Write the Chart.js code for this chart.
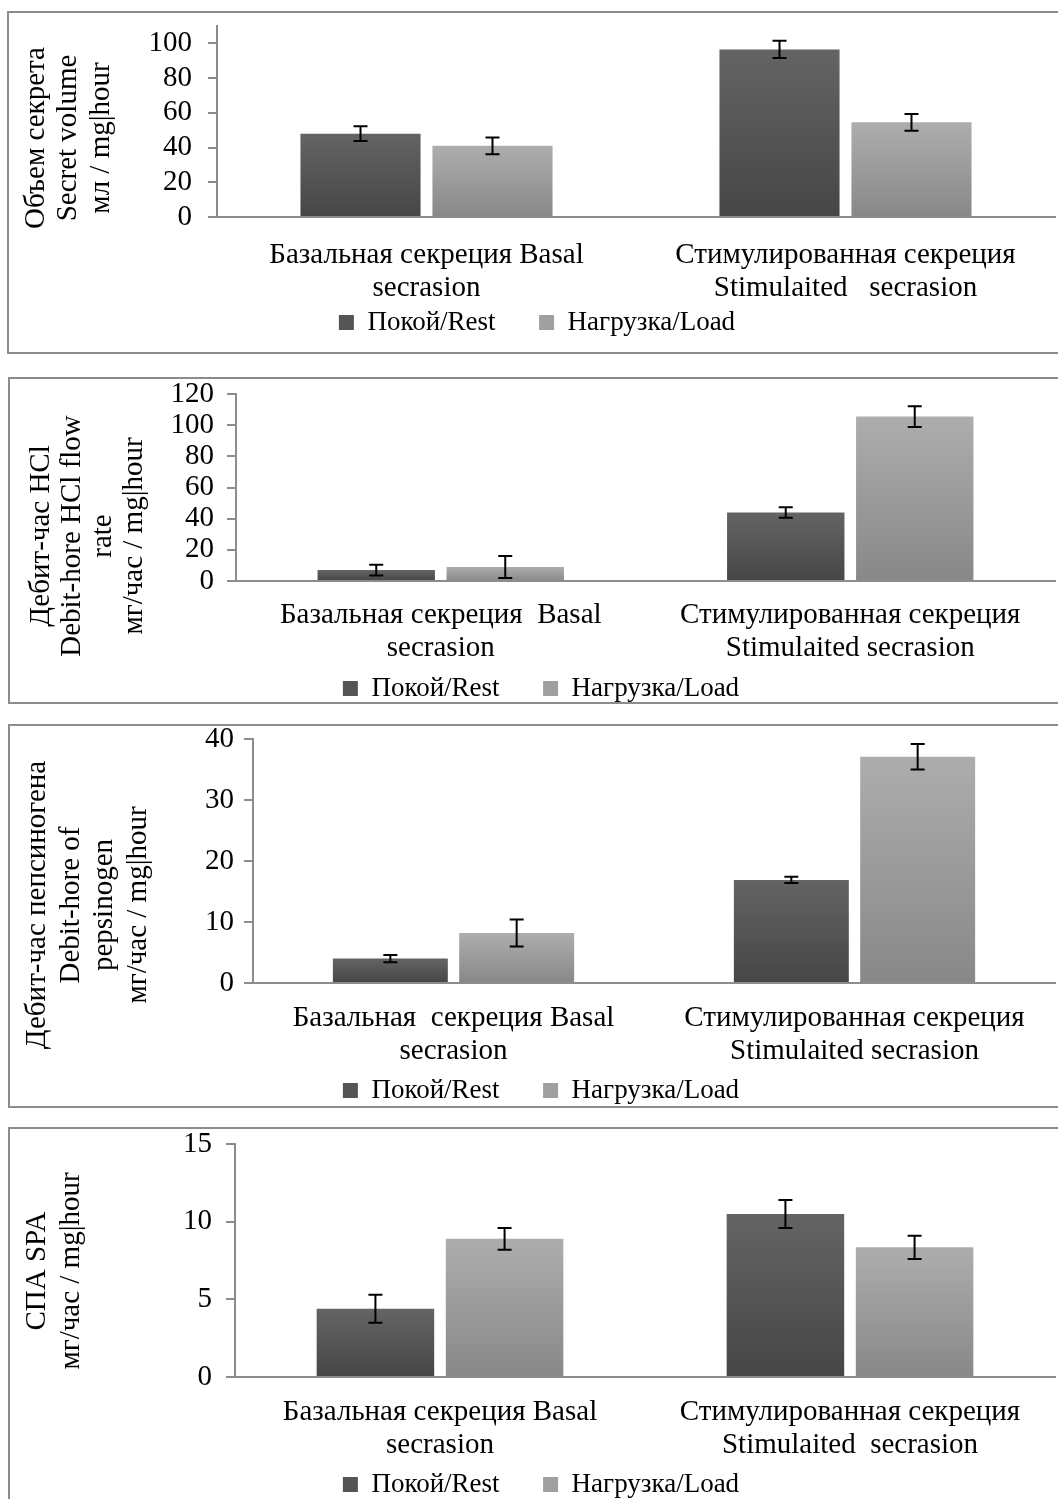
<!DOCTYPE html>
<html>
<head>
<meta charset="utf-8">
<script src="https://cdn.jsdelivr.net/npm/chart.js@4.4.1/dist/chart.umd.min.js"></script>
<style>
  html, body { margin: 0; padding: 0; background: #fff; overflow: hidden; }
  body { width: 1058px; height: 1499px; position: relative; }
  .box { position: absolute; border: 2px solid #8c8c8c; box-sizing: border-box; left: 8px; width: 1070px; }
  .wrap { position: absolute; left: 9px; width: 1049px; }
</style>
</head>
<body>
<div class="box" style="left:7px;top:11px;height:343px"></div>
<div class="box" style="top:377px;height:327px"></div>
<div class="box" style="top:724px;height:384px"></div>
<div class="box" style="top:1127px;height:400px"></div>

<div class="wrap" style="top:-10px;height:356px"><canvas id="c1"></canvas></div>
<div class="wrap" style="top:358px;height:354px"><canvas id="c2"></canvas></div>
<div class="wrap" style="top:703px;height:411px"><canvas id="c3"></canvas></div>
<div class="wrap" style="top:1108px;height:400px"><canvas id="c4"></canvas></div>

<script>
var legendLabels = ['Покой/Rest', 'Нагрузка/Load'];

// 1 - volume of secretion
var volumeCategories = [['Базальная секреция Basal', 'secrasion'], ['Стимулированная секреция', 'Stimulaited   secrasion']];
var volumeRest = [48, 96.5];
var volumeRestErr = [4.2, 5];
var volumeLoad = [41, 54.5];
var volumeLoadErr = [4.8, 4.8];
var volumeTicks = [0, 20, 40, 60, 80, 100];
var volumeTitle = ['Объем секрета', 'Secret volume', 'мл / mg|hour'];

// 2 - HCl flow rate
var hclCategories = [['Базальная секреция  Basal', 'secrasion'], ['Стимулированная секреция', 'Stimulaited secrasion']];
var hclRest = [7, 44];
var hclRestErr = [3.5, 3.4];
var hclLoad = [9, 105.5];
var hclLoadErr = [7, 6.7];
var hclTicks = [0, 20, 40, 60, 80, 100, 120];
var hclTitle = ['Дебит-час HCl', 'Debit-hore HCl flow', 'rate', 'мг/час / mg|hour'];

// 3 - pepsinogen
var pepsCategories = [['Базальная  секреция Basal', 'secrasion'], ['Стимулированная секреция', 'Stimulaited secrasion']];
var pepsRest = [4, 16.9];
var pepsRestErr = [0.6, 0.5];
var pepsLoad = [8.2, 37.1];
var pepsLoadErr = [2.2, 2.1];
var pepsTicks = [0, 10, 20, 30, 40];
var pepsTitle = ['Дебит-час пепсиногена', 'Debit-hore of', 'pepsinogen', 'мг/час / mg|hour'];

// 4 - SPA
var spaCategories = [['Базальная секреция Basal', 'secrasion'], ['Стимулированная секреция', 'Stimulaited  secrasion']];
var spaRest = [4.4, 10.5];
var spaRestErr = [0.9, 0.9];
var spaLoad = [8.9, 8.35];
var spaLoadErr = [0.7, 0.75];
var spaTicks = [0, 5, 10, 15];
var spaTitle = ['СПА SPA', 'мг/час / mg|hour'];

var axisColor = '#8c8c8c';
var legendFill = ['#555555', '#a0a0a0'];
var fontFam = '"Liberation Serif", "Times New Roman", serif';

Chart.defaults.font.family = fontFam;
Chart.defaults.color = '#000';

function barFill(top, bottom) {
  return function(c) {
    var chart = c.chart;
    if (c.type !== 'data' || !chart.chartArea) return bottom;
    var y = chart.scales.y;
    var y1 = y.getPixelForValue(c.raw), y0 = y.getPixelForValue(0);
    if (!isFinite(y1) || y0 - y1 < 1) return bottom;
    var g = chart.ctx.createLinearGradient(0, y1, 0, y0);
    g.addColorStop(0, top);
    g.addColorStop(1, bottom);
    return g;
  };
}

var errorBars = {
  id: 'errorBars',
  afterDatasetsDraw: function(chart) {
    var ctx = chart.ctx, y = chart.scales.y;
    chart.data.datasets.forEach(function(ds, di) {
      var meta = chart.getDatasetMeta(di);
      meta.data.forEach(function(bar, i) {
        var v = ds.data[i], e = ds.errors[i];
        var yt = y.getPixelForValue(v + e), yb = y.getPixelForValue(v - e);
        ctx.save();
        ctx.strokeStyle = '#000';
        ctx.lineWidth = 2;
        ctx.beginPath();
        ctx.moveTo(bar.x, yt); ctx.lineTo(bar.x, yb);
        ctx.moveTo(bar.x - 7, yt); ctx.lineTo(bar.x + 7, yt);
        ctx.moveTo(bar.x - 7, yb); ctx.lineTo(bar.x + 7, yb);
        ctx.stroke();
        ctx.restore();
      });
    });
  }
};

var sideTitle = {
  id: 'sideTitle',
  afterDraw: function(chart, args, o) {
    var ctx = chart.ctx;
    ctx.save();
    ctx.font = '29px ' + fontFam;
    ctx.fillStyle = '#000';
    ctx.textAlign = 'center';
    ctx.textBaseline = 'middle';
    o.lines.forEach(function(t, i) {
      ctx.save();
      ctx.translate(o.xs[i], o.cy);
      ctx.rotate(-Math.PI / 2);
      ctx.fillText(t, 0, 0);
      ctx.restore();
    });
    ctx.restore();
  }
};

function buildPanel(id, p) {
  var ctx = document.getElementById(id).getContext('2d');
  return new Chart(ctx, {
    type: 'bar',
    data: {
      labels: p.categories,
      datasets: [
        { label: legendLabels[0], data: p.rest, errors: p.restErr, backgroundColor: barFill('#646464', '#464646'),
          categoryPercentage: 0.63, barPercentage: 0.91 },
        { label: legendLabels[1], data: p.load, errors: p.loadErr, backgroundColor: barFill('#adadad', '#888888'),
          categoryPercentage: 0.63, barPercentage: 0.91 }
      ]
    },
    options: {
      responsive: true,
      maintainAspectRatio: false,
      animation: false,
      layout: { padding: { top: 36, left: p.padLeft, right: 3, bottom: 0 } },
      scales: {
        x: {
          grid: { display: false, drawTicks: false },
          border: { color: axisColor, width: 2 },
          ticks: { font: { size: 29, lineHeight: 1.16 }, color: '#000', padding: p.xPad, maxRotation: 0, autoSkip: false },
          afterFit: function(s) { s.height = p.xH; }
        },
        y: {
          min: 0,
          max: p.max,
          afterBuildTicks: function(s) { s.ticks = p.ticks.map(function(v) { return { value: v }; }); },
          grid: { drawOnChartArea: false, color: axisColor, lineWidth: 2, tickLength: 9 },
          border: { color: axisColor, width: 2 },
          ticks: { font: { size: 29 }, color: '#000', padding: p.yPad, autoSkip: false },
          afterFit: function(s) { s.width = p.yW; }
        }
      },
      plugins: {
        legend: {
          position: 'bottom',
          labels: {
            font: { size: 27 },
            color: '#000',
            boxWidth: 15,
            boxHeight: 15,
            padding: 3,
            generateLabels: function(chart) {
              return chart.data.datasets.map(function(ds, i) {
                // trailing spaces give the gap between the two legend entries
                var txt = i === 0 ? ds.label + '      ' : ds.label;
                return { text: txt, fillStyle: legendFill[i], strokeStyle: legendFill[i], lineWidth: 0, hidden: false, datasetIndex: i, fontColor: '#000' };
              });
            }
          }
        },
        tooltip: { enabled: false },
        sideTitle: { lines: p.title, xs: p.titleX.map(function(x) { return x - 9; }), cy: p.titleY - p.top }
      }
    },
    plugins: [sideTitle, errorBars]
  });
}

buildPanel('c1', {
  categories: volumeCategories, rest: volumeRest, restErr: volumeRestErr, load: volumeLoad, loadErr: volumeLoadErr,
  ticks: volumeTicks, max: 110, title: volumeTitle,
  top: -10, padLeft: 10, yW: 198, xPad: 21.2, xH: 89, yPad: 16, titleX: [36, 68, 101], titleY: 138
});
buildPanel('c2', {
  categories: hclCategories, rest: hclRest, restErr: hclRestErr, load: hclLoad, loadErr: hclLoadErr,
  ticks: hclTicks, max: 120, title: hclTitle,
  top: 358, padLeft: 18, yW: 209, xPad: 17.2, xH: 91, yPad: 13, titleX: [41, 72, 103, 134], titleY: 536
});
buildPanel('c3', {
  categories: pepsCategories, rest: pepsRest, restErr: pepsRestErr, load: pepsLoad, loadErr: pepsLoadErr,
  ticks: pepsTicks, max: 40, title: pepsTitle,
  top: 703, padLeft: 18, yW: 226, xPad: 18.2, xH: 91, yPad: 10, titleX: [37, 71, 104, 138], titleY: 905
});
buildPanel('c4', {
  categories: spaCategories, rest: spaRest, restErr: spaRestErr, load: spaLoad, loadErr: spaLoadErr,
  ticks: spaTicks, max: 15, title: spaTitle,
  top: 1108, padLeft: 18, yW: 208, xPad: 18.2, xH: 91, yPad: 14, titleX: [37, 71], titleY: 1271
});
</script>
</body>
</html>
